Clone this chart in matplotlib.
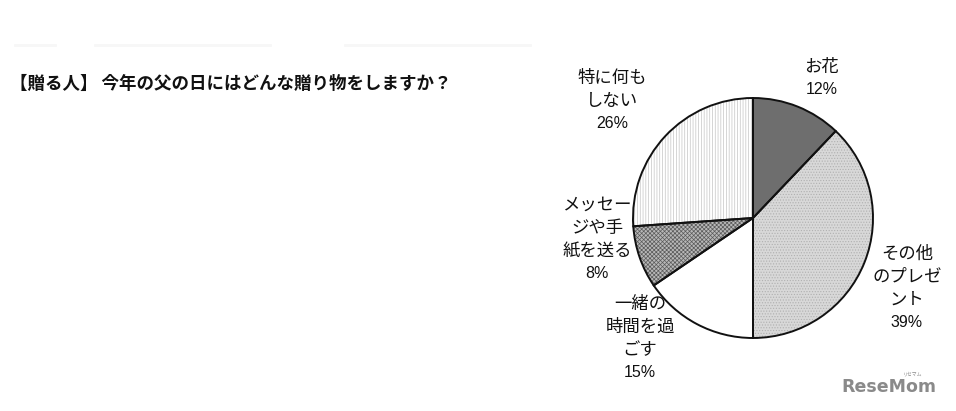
import matplotlib
matplotlib.use("Agg")
import matplotlib.pyplot as plt

plt.rcParams['font.family'] = ['Noto Sans CJK JP', 'DejaVu Sans']
plt.rcParams['hatch.linewidth'] = 0.5

title = "【贈る人】 今年の父の日にはどんな贈り物をしますか？"
categories = ["お花", "その他\nのプレゼ\nント", "一緒の\n時間を過\nごす", "メッセー\nジや手\n紙を送る", "特に何も\nしない"]
values = [12.1, 37.9, 15.5, 8.4, 26.1]
pct_labels = ["12%", "39%", "15%", "8%", "26%"]

face_colors = ["#6e6e6e", "#d8d8d8", "#ffffff", "#b8b8b8", "#ffffff"]
hatch_colors = ["#6e6e6e", "#b0b0b0", "#ffffff", "#5a5a5a", "#c4c4c4"]
hatches = [None, "......", None, "xxxxxxxx", "||||||"]

W, H = 956, 411
fig = plt.figure(figsize=(W / 100, H / 100), dpi=100)
ax = fig.add_axes([0, 0, 1, 1])

cx, cy, r = 753, H - 218, 120

w1, _ = ax.pie(values, startangle=90, counterclock=False, center=(cx, cy), radius=r,
               colors=face_colors, wedgeprops=dict(linewidth=0), frame=True)
for w, hc, h in zip(w1, hatch_colors, hatches):
    w.set_edgecolor(hc)
    if h:
        w.set_hatch(h)
ax.pie(values, startangle=90, counterclock=False, center=(cx, cy), radius=r,
       wedgeprops=dict(fill=False, edgecolor="#111111", linewidth=1.4), frame=True)

ax.set_xlim(0, W)
ax.set_ylim(0, H)
ax.set_aspect('equal')
ax.axis('off')

# title
ax.text(10, H - 84, title, fontsize=12.6, fontweight='bold', ha='left', va='center', color='#111111')

# faint header remnants
for x0, x1 in [(15, 55), (95, 270), (345, 530)]:
    ax.plot([x0, x1], [H - 45, H - 45], color='#f7f7f7', lw=2)

# labels: (x center, top y of first line)
label_pos = [(822, 58), (907, 245), (640, 295), (597, 196), (612, 69)]
line_h = 23
for (lx, ly), cat, pct in zip(label_pos, categories, pct_labels):
    lines = cat.split("\n")
    for i, ln in enumerate(lines):
        ax.text(lx, H - (ly + i * line_h), ln, fontsize=12.5, ha='center', va='top',
                color='#111111')
    ax.text(lx, H - (ly + len(lines) * line_h + 1), pct, fontsize=11.5, ha='center', va='top',
            color='#111111', family=['Liberation Sans'])

# watermark
ax.text(889, H - 387, "ReseMom", fontsize=12.5, fontweight='bold', ha='center', va='center',
        color='#8a8a8a', family=['DejaVu Sans'])
ax.text(913, H - 374, "リセマム", fontsize=3.5, ha='center', va='center', color='#8a8a8a')

fig.savefig("out.png", dpi=100)
